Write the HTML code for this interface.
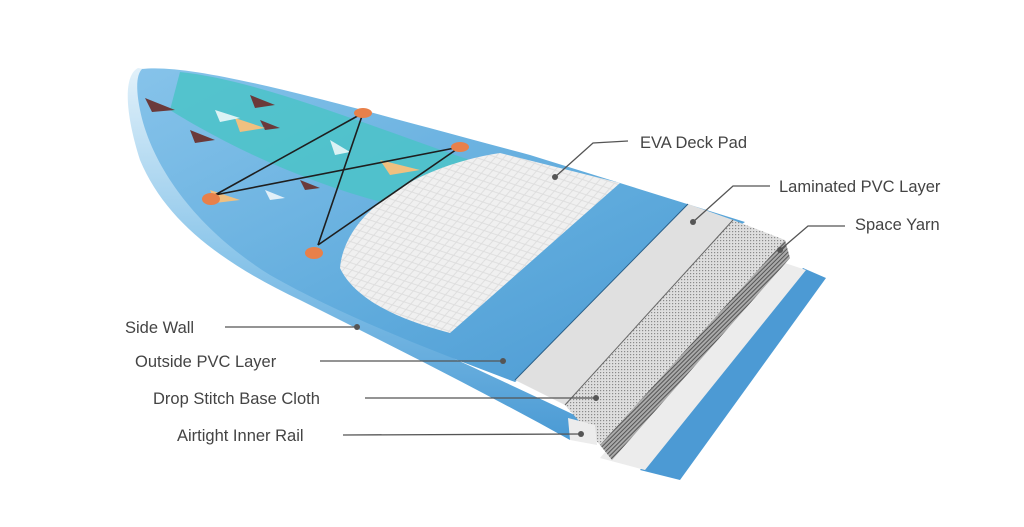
<!DOCTYPE html>
<html><head><meta charset="utf-8"><style>
html,body{margin:0;padding:0;background:#fff}
svg{display:block}
text{font-family:"Liberation Sans",sans-serif;font-size:16.5px;fill:#444}
</style></head><body>
<svg width="1024" height="527" viewBox="0 0 1024 527" xmlns="http://www.w3.org/2000/svg">
<defs>
<linearGradient id="deck" x1="0" y1="0" x2="1" y2="1">
<stop offset="0" stop-color="#86c3ea"/><stop offset="0.6" stop-color="#5eaadc"/><stop offset="1" stop-color="#4a98d2"/>
</linearGradient>
<linearGradient id="rail" x1="0" y1="0" x2="0" y2="1">
<stop offset="0" stop-color="#e2f1fa"/><stop offset="0.5" stop-color="#8cc6ea"/><stop offset="1" stop-color="#4a9ad4"/>
</linearGradient>
<pattern id="dia" width="12" height="8" patternUnits="userSpaceOnUse" patternTransform="rotate(-15)">
<rect width="12" height="8" fill="#f0f0f0"/>
<path d="M0 4 L6 0 L12 4 L6 8 Z" fill="none" stroke="#dcdcdc" stroke-width="0.8"/>
</pattern>
<pattern id="mesh" width="3" height="3" patternUnits="userSpaceOnUse">
<rect width="3" height="3" fill="#dedede"/><rect width="1.2" height="1.2" fill="#8a8a8a"/>
</pattern>
<pattern id="mesh2" width="3" height="3" patternUnits="userSpaceOnUse" patternTransform="rotate(45)">
<rect width="3" height="3" fill="#aaa"/><rect width="1" height="3" fill="#555"/>
</pattern>
</defs>

<!-- bottom layers -->
<polygon points="803,268 826,278 680,480 640,470" fill="#4c9ad4"/>
<polygon points="770,258 806,270 645,470 600,458" fill="#ececec"/>
<!-- rail (side wall) -->
<path d="M138,68 C124,75 124,110 140,160 C165,220 220,262 300,300 C390,345 480,390 570,440 L585,420 C480,370 380,325 300,285 C220,245 165,190 150,130 C143,100 143,80 150,70 Z" fill="url(#rail)"/>
<!-- deck -->
<path d="M142,69 C200,62 360,110 530,155 L745,222 L515,382 C430,350 340,315 270,275 C190,225 150,160 140,110 C136,90 136,75 142,69 Z" fill="url(#deck)"/>
<!-- teal stripe -->
<path d="M180,72 C260,80 380,130 470,160 L440,215 C350,200 250,160 170,110 Z" fill="#4bc3c8" opacity="0.85"/>
<g fill="#6b3a3a"><polygon points="145,98 175,110 152,112"/><polygon points="190,130 215,140 195,143"/><polygon points="250,95 275,105 255,108"/><polygon points="300,180 320,188 305,190"/><polygon points="260,120 280,128 265,130"/></g>
<g fill="#f0c080"><polygon points="235,118 265,128 240,132"/><polygon points="380,160 420,170 390,175"/><polygon points="210,190 240,200 215,203"/></g>
<g fill="#fff" opacity="0.8"><polygon points="215,110 240,118 220,122"/><polygon points="330,140 350,152 335,155"/><polygon points="265,190 285,198 270,200"/></g>
<!-- EVA pad -->
<path d="M340,268 C345,210 420,165 500,153 L620,183 L450,333 C400,320 355,300 340,268 Z" fill="url(#dia)"/>
<!-- laminated band -->
<polygon points="688,204 733,220 565,405 515,380" fill="#e0e0e0"/>
<line x1="688" y1="204" x2="515" y2="380" stroke="#2a5f88" stroke-width="1"/>
<!-- yarn block -->
<polygon points="733,220 785,240 600,445 565,405" fill="url(#mesh)"/>
<polygon points="785,240 790,258 612,460 600,445" fill="url(#mesh2)"/>
<line x1="733" y1="220" x2="565" y2="405" stroke="#666" stroke-width="1"/>
<!-- inner rail cap -->
<polygon points="568,418 595,425 597,445 570,440" fill="#ececec"/>
<!-- bungee -->
<g stroke="#1e1e1e" stroke-width="1.6" fill="none">
<line x1="363" y1="113" x2="318" y2="245"/><line x1="363" y1="113" x2="215" y2="195"/>
<line x1="460" y1="147" x2="215" y2="195"/><line x1="460" y1="147" x2="318" y2="245"/>
</g>
<g fill="#e8804a"><ellipse cx="363" cy="113" rx="9" ry="5"/><ellipse cx="460" cy="147" rx="9" ry="5"/><ellipse cx="211" cy="199" rx="9" ry="6"/><ellipse cx="314" cy="253" rx="9" ry="6"/></g>

<!-- leaders -->
<g stroke="#555" stroke-width="1.3" fill="none">
<polyline points="628,141 593,143 555,177"/>
<polyline points="770,186 733,186 693,222"/>
<polyline points="845,226 808,226 780,250"/>
<line x1="225" y1="327" x2="357" y2="327"/>
<line x1="320" y1="361" x2="503" y2="361"/>
<line x1="365" y1="398" x2="596" y2="398"/>
<line x1="343" y1="435" x2="581" y2="434"/>
</g>
<g fill="#555">
<circle cx="555" cy="177" r="3"/><circle cx="693" cy="222" r="3"/><circle cx="780" cy="250" r="3"/>
<circle cx="357" cy="327" r="3"/><circle cx="503" cy="361" r="3"/><circle cx="596" cy="398" r="3"/><circle cx="581" cy="434" r="3"/>
</g>
<text x="640" y="148">EVA Deck Pad</text>
<text x="779" y="192">Laminated PVC Layer</text>
<text x="855" y="230">Space Yarn</text>
<text x="125" y="333">Side Wall</text>
<text x="135" y="367">Outside PVC Layer</text>
<text x="153" y="404">Drop Stitch Base Cloth</text>
<text x="177" y="441">Airtight Inner Rail</text>
</svg>
</body></html>
